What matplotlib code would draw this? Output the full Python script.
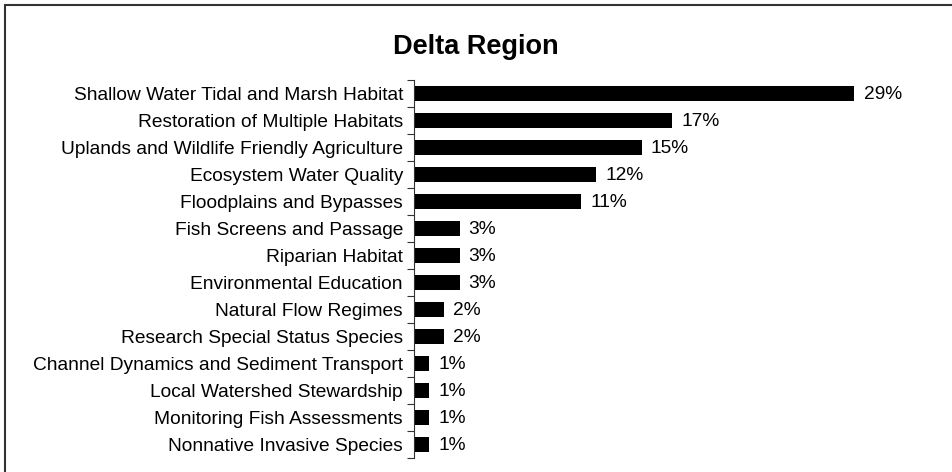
import matplotlib.pyplot as plt
from matplotlib.patches import Rectangle

categorias = ["Shallow Water Tidal and Marsh Habitat",
              "Restoration of Multiple Habitats",
              "Uplands and Wildlife Friendly Agriculture",
              "Ecosystem Water Quality",
              "Floodplains and Bypasses",
              "Fish Screens and Passage",
              "Riparian Habitat",
              "Environmental Education",
              "Natural Flow Regimes",
              "Research Special Status Species",
              "Channel Dynamics and Sediment Transport",
              "Local Watershed Stewardship",
              "Monitoring Fish Assessments",
              "Nonnative Invasive Species"]
porcentajes = [29, 17, 15, 12, 11, 3, 3, 3, 2, 2, 1, 1, 1, 1]
etiquetas = ["29%", "17%", "15%", "12%", "11%", "3%", "3%", "3%",
             "2%", "2%", "1%", "1%", "1%", "1%"]

plt.rcParams['font.family'] = ['Liberation Sans', 'DejaVu Sans']

fig = plt.figure(figsize=(9.52, 4.72), dpi=100)
ax = fig.add_axes([414 / 952, 1 - 458 / 472, 486 / 952, 378 / 472])

n = len(categorias)
pos = list(range(n))
ax.barh(pos, porcentajes, height=0.52, color='black')
for p, v, t in zip(pos, porcentajes, etiquetas):
    ax.text(v + 0.6, p + 0.04, t, va='center', ha='left', fontsize=13.8)

ax.set_ylim(n - 0.5, -0.5)
ax.set_xlim(0, 32)
ax.set_yticks([p - 0.5 for p in pos] + [n - 0.5])
ax.set_yticklabels([])
ax.set_yticks(pos, minor=True)
ax.set_yticklabels(categorias, minor=True, fontsize=13.8)
ax.tick_params(axis='y', which='minor', length=0, pad=8)
ax.tick_params(axis='y', which='major', length=5, width=0.8, color='#333333')
ax.set_xticks([])
for s in ['top', 'right', 'bottom']:
    ax.spines[s].set_visible(False)
ax.spines['left'].set_color('#333333')

fig.text(476 / 952, 1 - 47 / 472, "Delta Region", ha='center', va='center',
         fontsize=19.5, fontweight='bold')

fig.patches.append(Rectangle((5 / 952, -0.05), 1.1, 1 - 5 / 472 + 0.05,
                             transform=fig.transFigure, fill=False,
                             edgecolor='#333333', linewidth=1.5))

fig.savefig("out.png", dpi=100)
